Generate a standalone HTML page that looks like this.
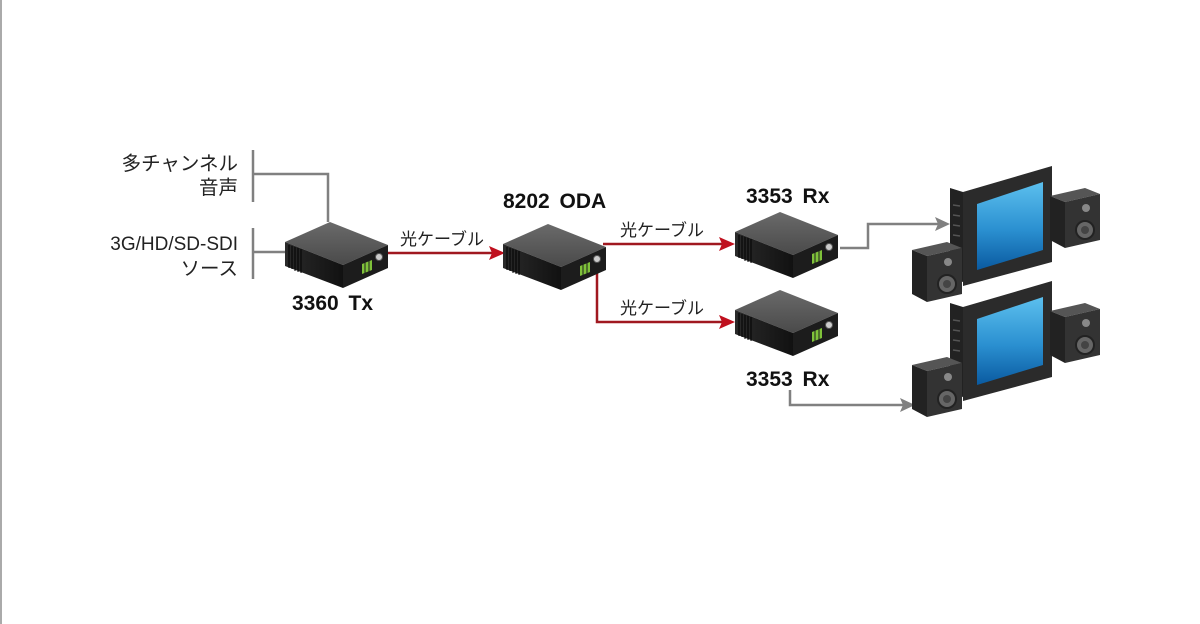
<!DOCTYPE html>
<html><head><meta charset="utf-8"><style>
html,body{margin:0;padding:0;background:#fff;}
svg{display:block;}
text{font-family:"Liberation Sans","Noto Sans CJK JP",sans-serif;}
</style></head><body>
<svg width="1200" height="624" viewBox="0 0 1200 624" xmlns="http://www.w3.org/2000/svg">
<defs>
<linearGradient id="top" x1="0" y1="0" x2="0" y2="1"><stop offset="0" stop-color="#6a6a6a"/><stop offset="1" stop-color="#4a4a4a"/></linearGradient>
<linearGradient id="lf" x1="0" y1="0" x2="1" y2="0"><stop offset="0" stop-color="#2a2a2a"/><stop offset="1" stop-color="#111"/></linearGradient>
<linearGradient id="scr" x1="0" y1="0" x2="0" y2="1"><stop offset="0" stop-color="#5cc0ee"/><stop offset="0.55" stop-color="#2a8fd0"/><stop offset="1" stop-color="#0a5aa0"/></linearGradient>
<g id="dev">
  <polygon points="0,0 45,-20 103,3 58,23" fill="url(#top)"/>
  <polygon points="0,0 58,23 58,46 0,24" fill="url(#lf)"/>
  <polygon points="58,23 103,3 103,26 58,46" fill="#1c1c1c"/>
  <g stroke="#000" stroke-width="1"><line x1="4" y1="3" x2="4" y2="26"/><line x1="7" y1="4" x2="7" y2="27"/><line x1="10" y1="5" x2="10" y2="29"/><line x1="13" y1="6" x2="13" y2="30"/><line x1="16" y1="7" x2="16" y2="31"/></g>
  <polygon points="77,22 87,18 87,28 77,32" fill="#7fc23a"/>
  <g stroke="#1c1c1c" stroke-width="1"><line x1="80" y1="20" x2="80" y2="31"/><line x1="84" y1="19" x2="84" y2="30"/></g>
  <circle cx="94" cy="15" r="3.5" fill="#ccc" stroke="#555"/>
</g>
<g id="spk">
  <polygon points="0,8 35,0 50,6 15,14" fill="#555"/>
  <polygon points="0,8 15,14 15,60 0,52" fill="#222"/>
  <polygon points="15,14 50,6 50,52 15,60" fill="#333"/>
  <circle cx="35" cy="42" r="9" fill="#666" stroke="#222" stroke-width="2"/>
  <circle cx="35" cy="42" r="4" fill="#444"/>
  <circle cx="36" cy="20" r="4" fill="#888"/>
</g>
<g id="tv">
  <polygon points="0,18 13,22 13,112 0,108" fill="#222"/>
  <polygon points="13,22 102,-4 102,92 13,116" fill="#2b2b2b"/>
  <polygon points="27,34 93,12 93,80 27,100" fill="url(#scr)"/>
  <g stroke="#555" stroke-width="1.5"><line x1="3" y1="35" x2="10" y2="36"/><line x1="3" y1="45" x2="10" y2="46"/><line x1="3" y1="55" x2="10" y2="56"/><line x1="3" y1="65" x2="10" y2="66"/></g>
</g>
</defs>
<line x1="1" y1="0" x2="1" y2="624" stroke="#aaa" stroke-width="2"/>

<g stroke="#808080" stroke-width="2.5" fill="none">
<line x1="253" y1="150" x2="253" y2="202"/>
<polyline points="253,174 328,174 328,222"/>
<line x1="253" y1="228" x2="253" y2="279"/>
<line x1="253" y1="252" x2="288" y2="252"/>
<polyline points="840,248 868,248 868,224 938,224"/>
<polyline points="790,390 790,405 903,405"/>
</g>
<polygon points="950,224 935,217 938,224 935,231" fill="#808080"/>
<polygon points="915,405 900,398 903,405 900,412" fill="#808080"/>

<g stroke="#a01820" stroke-width="2.5" fill="none">
<line x1="385" y1="253" x2="492" y2="253"/>
<line x1="603" y1="244" x2="722" y2="244"/>
<polyline points="597,262 597,322 722,322"/>
</g>
<polygon points="505,253 489,246 492,253 489,260" fill="#c0101e"/>
<polygon points="735,244 719,237 722,244 719,251" fill="#c0101e"/>
<polygon points="735,322 719,315 722,322 719,329" fill="#c0101e"/>

<use href="#dev" x="285" y="242"/>
<use href="#dev" x="503" y="244"/>
<use href="#dev" x="735" y="232"/>
<use href="#dev" x="735" y="310"/>

<use href="#tv" x="950" y="170"/>
<use href="#spk" x="1050" y="188"/>
<use href="#spk" x="912" y="242"/>
<use href="#tv" x="950" y="285"/>
<use href="#spk" x="1050" y="303"/>
<use href="#spk" x="912" y="357"/>

<g font-size="19.5" fill="#222" text-anchor="end">
<text x="238" y="170">多チャンネル</text>
<text x="238" y="194">音声</text>
<text x="238" y="250" font-size="19">3G/HD/SD-SDI</text>
<text x="238" y="275">ソース</text>
</g>
<g font-size="17" fill="#222">
<text x="400" y="245">光ケーブル</text>
<text x="620" y="236">光ケーブル</text>
<text x="620" y="314">光ケーブル</text>
</g>
<g font-size="21" font-weight="bold" fill="#111" word-spacing="4">
<text x="292" y="310">3360 Tx</text>
<text x="503" y="208">8202 ODA</text>
<text x="746" y="203">3353 Rx</text>
<text x="746" y="386">3353 Rx</text>
</g>
</svg>
</body></html>
